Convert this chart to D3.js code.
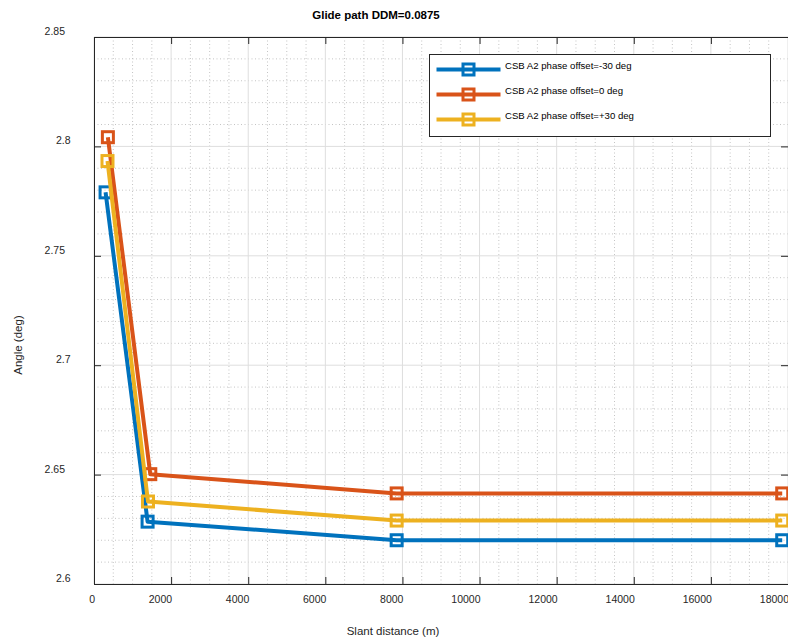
<!DOCTYPE html>
<html>
<head>
<meta charset="utf-8">
<script src="https://cdn.jsdelivr.net/npm/d3@7"></script>
<style>
  body { margin: 0; background: #fff; }
  svg { display: block; font-family: "Liberation Sans", Arial, sans-serif; }
</style>
</head>
<body>
<div id="chart"></div>
<script>
// data
const seriesNames = ['CSB A2 phase offset=-30 deg', 'CSB A2 phase offset=0 deg', 'CSB A2 phase offset=+30 deg']
const seriesColors = ['#0072BD', '#D95319', '#EDB120']
const distNeg30 = [300, 1390, 7850, 17850]
const angleNeg30 = [2.7790, 2.6285, 2.6200, 2.6200]
const dist0 = [360, 1460, 7850, 17850]
const angle0 = [2.8042, 2.6502, 2.6414, 2.6414]
const distPos30 = [350, 1400, 7850, 17850]
const anglePos30 = [2.7933, 2.6377, 2.6290, 2.6290]
const xTicks = [0, 2000, 4000, 6000, 8000, 10000, 12000, 14000, 16000, 18000]
const yTicks = [2.6, 2.65, 2.7, 2.75, 2.8, 2.85]

const W = 788, H = 641
const margin = {top: 37, right: 0, bottom: 57, left: 94}
const width = W - margin.left - margin.right, height = H - margin.top - margin.bottom
const axisCol = '#262626'

const svg = d3.select('#chart').append('svg').attr('width', W).attr('height', H)
const g = svg.append('g').attr('transform', `translate(${margin.left},${margin.top})`)

const x = d3.scaleLinear().domain([0, 18000]).range([0, width])
const y = d3.scaleLinear().domain([2.6, 2.85]).range([height, 0])

// minor grid (dotted)
g.append('g').selectAll('line').data(x.ticks(36).filter(d => !xTicks.includes(d)))
  .join('line')
  .attr('x1', d => x(d)).attr('x2', d => x(d)).attr('y1', 0).attr('y2', height)
  .attr('stroke', '#c4c4c4').attr('stroke-dasharray', '1,2.5')
g.append('g').selectAll('line').data(y.ticks(25).filter(d => !yTicks.some(t => Math.abs(t - d) < 1e-9)))
  .join('line')
  .attr('x1', 0).attr('x2', width).attr('y1', d => y(d)).attr('y2', d => y(d))
  .attr('stroke', '#c4c4c4').attr('stroke-dasharray', '1,2.5')

// major grid
g.append('g').selectAll('line').data(xTicks)
  .join('line')
  .attr('x1', d => x(d)).attr('x2', d => x(d)).attr('y1', 0).attr('y2', height)
  .attr('stroke', '#dedede')
g.append('g').selectAll('line').data(yTicks)
  .join('line')
  .attr('x1', 0).attr('x2', width).attr('y1', d => y(d)).attr('y2', d => y(d))
  .attr('stroke', '#dedede')

// series
const series = [
  {name: seriesNames[0], color: seriesColors[0], pts: distNeg30.map((d, i) => [d, angleNeg30[i]])},
  {name: seriesNames[1], color: seriesColors[1], pts: dist0.map((d, i) => [d, angle0[i]])},
  {name: seriesNames[2], color: seriesColors[2], pts: distPos30.map((d, i) => [d, anglePos30[i]])}
]
const line = d3.line().x(d => x(d[0])).y(d => y(d[1]))
const mk = 11

series.forEach(s => {
  const sg = g.append('g')
  sg.append('path').datum(s.pts)
    .attr('d', line).attr('fill', 'none')
    .attr('stroke', s.color).attr('stroke-width', 4).attr('stroke-linejoin', 'round')
  sg.selectAll('rect').data(s.pts).join('rect')
    .attr('x', d => x(d[0]) - mk / 2).attr('y', d => y(d[1]) - mk / 2)
    .attr('width', mk).attr('height', mk)
    .attr('fill', 'none').attr('stroke', s.color).attr('stroke-width', 3)
})

// axes (box, ticks inward)
const tickFont = 10.5
const bottom = g.append('g').attr('transform', `translate(0,${height})`)
  .call(d3.axisBottom(x).tickValues(xTicks).tickSizeInner(-7).tickSizeOuter(0).tickPadding(12).tickFormat(d3.format('d')))
bottom.selectAll('text').attr('text-anchor', 'end').attr('dx', '0.5')
g.append('g').call(d3.axisTop(x).tickValues(xTicks).tickSizeInner(-7).tickSizeOuter(0).tickFormat(''))
const left = g.append('g')
  .call(d3.axisLeft(y).tickValues(yTicks).tickSizeInner(-7).tickSizeOuter(0).tickFormat(d => String(d)))
left.selectAll('text')
  .attr('x', d => String(d).length > 3 ? -29 : -23.5)
  .attr('dy', -2.5)
g.append('g').attr('transform', `translate(${width},0)`)
  .call(d3.axisRight(y).tickValues(yTicks).tickSizeInner(-7).tickSizeOuter(0).tickFormat(''))
g.selectAll('.domain').attr('stroke', axisCol)
g.selectAll('.tick line').attr('stroke', axisCol)
g.selectAll('.tick text').attr('fill', axisCol).attr('font-size', tickFont).attr('font-family', '"Liberation Sans", Arial, sans-serif')

// title and axis labels
svg.append('text').attr('x', 376).attr('y', 19)
  .attr('text-anchor', 'middle').attr('font-weight', 'bold').attr('font-size', 11.5)
  .attr('fill', '#000').text('Glide path DDM=0.0875')
svg.append('text').attr('x', 393).attr('y', 635)
  .attr('text-anchor', 'middle').attr('font-size', 11.5).attr('fill', axisCol)
  .text('Slant distance (m)')
svg.append('text').attr('transform', 'translate(22,345) rotate(-90)')
  .attr('text-anchor', 'middle').attr('font-size', 11.5).attr('fill', axisCol)
  .text('Angle (deg)')

// legend
const lg = svg.append('g').attr('transform', 'translate(429.5,54.5)')
lg.append('rect').attr('width', 341).attr('height', 82)
  .attr('fill', '#fff').attr('stroke', axisCol)
series.forEach((s, i) => {
  const ry = 15 + i * 25
  lg.append('line').attr('x1', 7).attr('x2', 71).attr('y1', ry).attr('y2', ry)
    .attr('stroke', s.color).attr('stroke-width', 4)
  lg.append('rect').attr('x', 39 - mk / 2).attr('y', ry - mk / 2).attr('width', mk).attr('height', mk)
    .attr('fill', 'none').attr('stroke', s.color).attr('stroke-width', 3)
  lg.append('text').attr('x', 75.5).attr('y', ry - 1)
    .attr('font-size', 9.6).attr('fill', '#000').text(s.name)
})
</script>
</body>
</html>
